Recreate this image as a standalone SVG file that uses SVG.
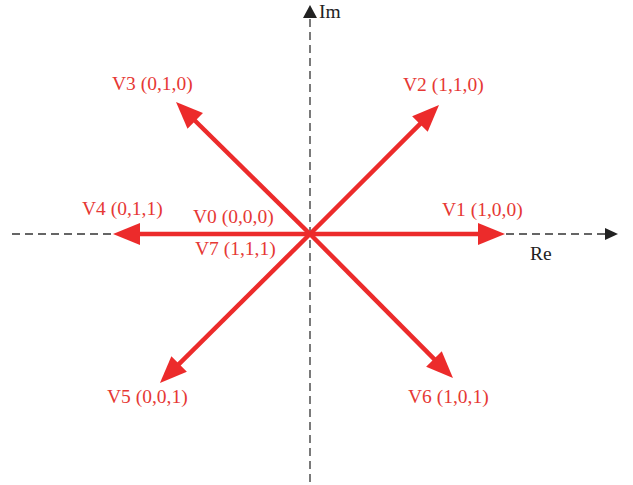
<svg xmlns="http://www.w3.org/2000/svg" width="633" height="485" viewBox="0 0 633 485">
  <style>
    .axis { stroke: #333; stroke-width: 1.3; stroke-dasharray: 8 5; fill: none; }
    .vec { stroke: #ec2b2b; stroke-width: 4.5; fill: none; marker-end: url(#ah); }
    .lbl { font-family: "Liberation Serif", "Times New Roman", serif; font-size: 19.5px; fill: #e63834; }
    .axl { font-family: "Liberation Serif", "Times New Roman", serif; font-size: 19.5px; fill: #222; }
  </style>
  <defs>
    <marker id="ah" markerWidth="30" markerHeight="24" refX="12" refY="11" orient="auto" markerUnits="userSpaceOnUse">
      <path d="M0,0 L27,11 L0,22 Z" fill="#ec2b2b"/>
    </marker>
  </defs>
  <rect width="633" height="485" fill="#fff"/>
  <g id="axes">
    <line class="axis" x1="12" y1="234" x2="606" y2="234"/>
    <path d="M618,234 L605,228 L605,240 Z" fill="#222"/>
    <line class="axis" x1="310" y1="482" x2="310" y2="17"/>
    <path d="M310,5 L303,18 L317,18 Z" fill="#222"/>
    <text class="axl" x="319" y="18">Im</text>
    <text class="axl" x="530" y="260">Re</text>
  </g>
  <g id="connectors">
    <line class="vec" x1="310" y1="234" x2="490" y2="234"/>
    <line class="vec" x1="310" y1="234" x2="128" y2="234"/>
    <line class="vec" x1="310" y1="234" x2="428.4" y2="115.6"/>
    <line class="vec" x1="310" y1="234" x2="186.7" y2="112.5"/>
    <line class="vec" x1="310" y1="234" x2="170.6" y2="372.4"/>
    <line class="vec" x1="310" y1="234" x2="442.4" y2="367.4"/>
  </g>
  <g id="V1"><text class="lbl" x="442" y="216">V1 (1,0,0)</text></g>
  <g id="V2"><text class="lbl" x="403" y="91">V2 (1,1,0)</text></g>
  <g id="V3"><text class="lbl" x="112" y="90">V3 (0,1,0)</text></g>
  <g id="V4"><text class="lbl" x="82" y="215">V4 (0,1,1)</text></g>
  <g id="V5"><text class="lbl" x="107" y="403">V5 (0,0,1)</text></g>
  <g id="V6"><text class="lbl" x="408" y="403">V6 (1,0,1)</text></g>
  <g id="V0"><text class="lbl" x="193" y="223">V0 (0,0,0)</text></g>
  <g id="V7"><text class="lbl" x="195" y="255">V7 (1,1,1)</text></g>
</svg>
